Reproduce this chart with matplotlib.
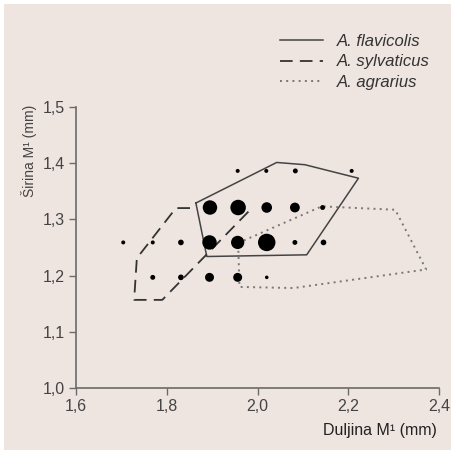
import matplotlib
matplotlib.use("Agg")
import matplotlib.pyplot as plt
from matplotlib import font_manager
import numpy as np

# ---- data ----
dot_x = [1.956, 2.019, 2.083, 2.207,
         1.895, 1.957, 2.020, 2.082, 2.143,
         1.704, 1.769, 1.831, 1.894, 1.956, 2.020, 2.082, 2.145,
         1.769, 1.831, 1.894, 1.956, 2.020]
dot_y = [1.386, 1.386, 1.386, 1.386,
         1.321, 1.321, 1.321, 1.321, 1.321,
         1.259, 1.259, 1.259, 1.259, 1.259, 1.259, 1.259, 1.259,
         1.197, 1.197, 1.197, 1.197, 1.197]
dot_n = [1, 1, 1.5, 1,
         13, 15, 7, 6, 1.5,
         1, 1, 2, 13, 11, 19, 1.5, 2,
         1.5, 2, 5, 5, 0.8]

flav_x = [1.864, 2.042, 2.104, 2.222, 2.108, 1.888, 1.864]
flav_y = [1.329, 1.401, 1.397, 1.373, 1.237, 1.234, 1.329]

sylv_x = [1.851, 1.820, 1.734, 1.728, 1.790, 1.980]
sylv_y = [1.320, 1.320, 1.231, 1.157, 1.157, 1.314]

agr_x = [1.957, 2.141, 2.303, 2.371, 2.079, 1.960, 1.957]
agr_y = [1.258, 1.323, 1.317, 1.211, 1.178, 1.180, 1.258]

xticks = [1.6, 1.8, 2.0, 2.2, 2.4]
yticks = [1.0, 1.1, 1.2, 1.3, 1.4, 1.5]
xtick_labels = ["1,6", "1,8", "2,0", "2,2", "2,4"]
ytick_labels = ["1,0", "1,1", "1,2", "1,3", "1,4", "1,5"]
legend_names = ["A. flavicolis", "A. sylvaticus", "A. agrarius"]

# ---- fonts ----
avail = {f.name for f in font_manager.fontManager.ttflist}
fam = "Liberation Sans Narrow" if "Liberation Sans Narrow" in avail else "Liberation Sans"
plt.rcParams['font.family'] = [fam, 'DejaVu Sans']

bg = '#EEE4E0'

fig = plt.figure(figsize=(4.55, 4.55), dpi=100)
fig.patch.set_facecolor('white')
fig.patches.append(plt.Rectangle((4/455, 5/455), 447/455, 446/455,
                                 transform=fig.transFigure, facecolor=bg,
                                 edgecolor='none', zorder=-10))

ax = fig.add_axes([76/455, 1 - 388.3/455, (439.3 - 76)/455, (388.3 - 106.7)/455])
ax.set_facecolor('none')
ax.set_xlim(1.6, 2.4)
ax.set_ylim(1.0, 1.5)
for s in ['top', 'right']:
    ax.spines[s].set_visible(False)
for s in ['left', 'bottom']:
    ax.spines[s].set_color('#6a6a6a')
    ax.spines[s].set_linewidth(1.2)
ax.set_xticks(xticks)
ax.set_xticklabels(xtick_labels)
ax.set_yticks(yticks)
ax.set_yticklabels(ytick_labels)
ax.tick_params(direction='out', length=5, width=1.0, color='#6a6a6a',
               labelsize=11.5, labelcolor='#444444', pad=3)

# polygons
l1, = ax.plot(flav_x, flav_y, color='#444444', lw=1.1, ls='-', zorder=2)
l2, = ax.plot(sylv_x, sylv_y, color='#333333', lw=1.3, ls=(0, (7, 4)), zorder=2)
l3, = ax.plot(agr_x, agr_y, color='#777777', lw=1.4, ls=(0, (1, 2.2)), zorder=2)

# dots
diam_px = 4.0 * np.sqrt(np.array(dot_n))
s = (diam_px * 0.72) ** 2
ax.scatter(dot_x, dot_y, s=s, color='black', edgecolors='none', zorder=3)

# legend
leg = fig.legend([l1, l2, l3], legend_names, loc='upper left',
                 bbox_to_anchor=(265/455, 1 - 19/455), frameon=False,
                 handlelength=2.55, handletextpad=0.85, labelspacing=0.33,
                 prop={'style': 'italic', 'size': 12})
for t in leg.get_texts():
    t.set_color('#333333')

# axis labels
fig.text(437/455, 1 - 431/455, "Duljina M\u00b9 (mm)", ha='right', va='center',
         fontsize=11.5, color='#222222')
fig.text(29/455, 1 - 105/455, "Širina M\u00b9 (mm)", ha='center', va='top',
         rotation=90, fontsize=10, color='#444444')

fig.savefig('out.png', dpi=100, facecolor=fig.get_facecolor())
